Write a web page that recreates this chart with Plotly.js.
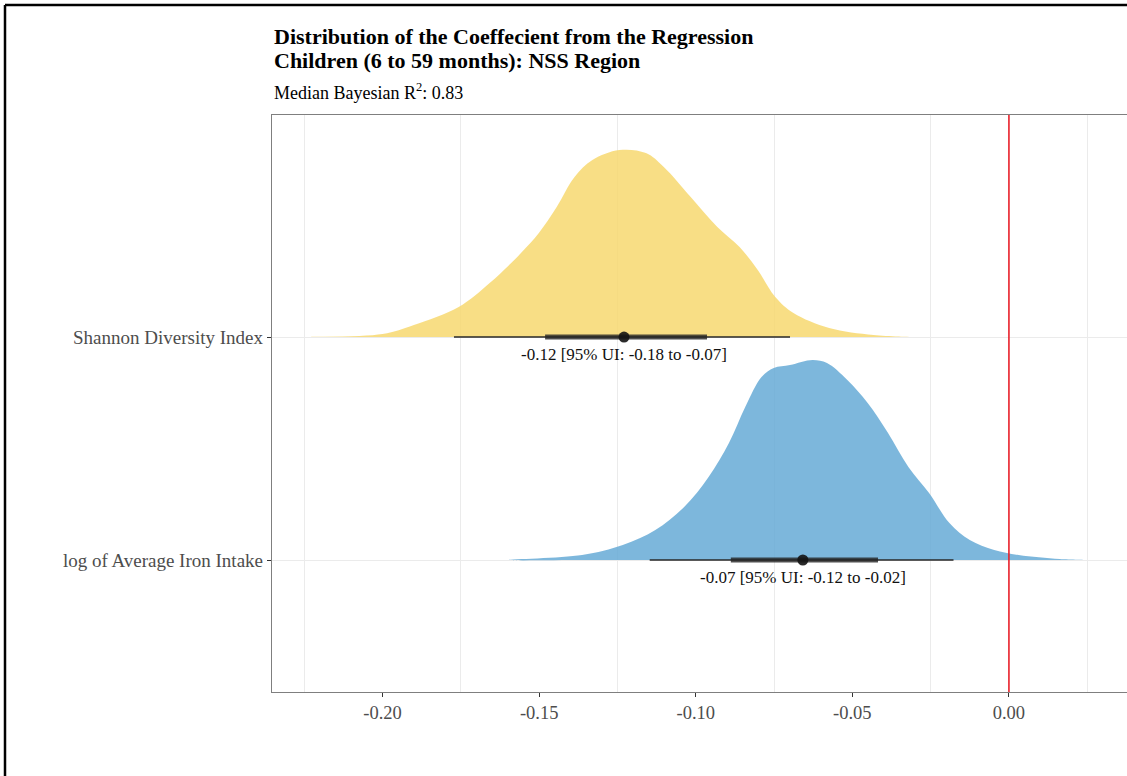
<!DOCTYPE html>
<html><head><meta charset="utf-8">
<script src="https://cdn.plot.ly/plotly-3.0.1.min.js"></script>
<style>html,body{margin:0;padding:0;background:#fff}#chart{width:1127px;height:776px}</style>
</head><body><div id="chart"></div>
<script>
// ---- data ----
const categories = ["log of Average Iron Intake", "Shannon Diversity Index"];
// posterior density outlines (x = coefficient value, h = relative density, max = 1)
const shannonX = [-0.2228,-0.2000,-0.1900,-0.1757,-0.1658,-0.1558,-0.1501,-0.1444,-0.1387,-0.1330,-0.1244,-0.1159,-0.1102,-0.1016,-0.0931,-0.0860,-0.0802,-0.0746,-0.0688,-0.0574,-0.0432,-0.0304];
const shannonH = [0.002,0.015,0.06,0.15,0.27,0.42,0.52,0.65,0.80,0.885,0.935,0.92,0.85,0.70,0.55,0.45,0.335,0.20,0.12,0.045,0.01,0];
const ironX = [-0.1598,-0.1363,-0.1233,-0.1129,-0.1037,-0.0959,-0.0894,-0.0842,-0.0790,-0.0751,-0.0699,-0.0627,-0.0581,-0.0516,-0.0451,-0.0386,-0.0321,-0.0255,-0.0190,-0.0125,-0.0047,0.0031,0.0162,0.0253];
const ironH = [0,0.025,0.075,0.15,0.265,0.415,0.585,0.765,0.915,0.96,0.975,1.0,0.985,0.90,0.785,0.635,0.465,0.335,0.185,0.10,0.05,0.025,0.005,0];
// point summaries, ordered as categories
const medians  = [-0.0658, -0.1229];
const lo95     = [-0.1147, -0.1772];
const hi95     = [-0.0177, -0.0699];
const loInner  = [-0.0888, -0.1481];
const hiInner  = [-0.0418, -0.0964];
const intervalLabels = ["-0.07 [95% UI: -0.12 to -0.02]", "-0.12 [95% UI: -0.18 to -0.07]"];
const xTickVals = [-0.20, -0.15, -0.10, -0.05, 0.00];
const medianR2 = 0.83;

// ---- styling / layout ----
const W = 1127, H = 776;
const M = {l: 272, r: 0, t: 115, b: 84};
const plotH = H - M.t - M.b, plotW = W - M.l - M.r;
const py = px => (H - M.b - px) / plotH;   // pixel y -> paper y
const pxx = px => (px - M.l) / plotW;      // pixel x -> paper x
const SERIF = "Liberation Serif, Times New Roman, serif";
const ridgeScale = 0.897;
const fills = ["rgba(102,170,214,0.85)", "rgba(247,216,112,0.85)"];
const densX = [ironX, shannonX];
const densH = [ironH, shannonH];

const traces = [];
for (const i of [1, 0]) {
  const base = i + 1;
  const xs = densX[i].concat(densX[i].slice().reverse());
  const ys = densH[i].map(h => base + h * ridgeScale).concat(densX[i].map(() => base));
  traces.push({type: "scatter", mode: "lines", x: xs, y: ys, fill: "toself",
    fillcolor: fills[i], line: {width: 0, shape: "spline", smoothing: 1}, hoverinfo: "skip", showlegend: false});
}
for (let i = 0; i < categories.length; i++) {
  const yv = i + 1;
  traces.push({type: "scatter", mode: "lines", x: [lo95[i], hi95[i]], y: [yv, yv],
    line: {color: "rgba(40,40,40,0.75)", width: 2}, hoverinfo: "skip", showlegend: false});
  traces.push({type: "scatter", mode: "lines", x: [loInner[i], hiInner[i]], y: [yv, yv],
    line: {color: "rgba(35,35,35,0.8)", width: 5}, hoverinfo: "skip", showlegend: false});
  traces.push({type: "scatter", mode: "markers", x: [medians[i]], y: [yv],
    marker: {color: "rgba(20,20,20,0.9)", size: 11}, hoverinfo: "skip", showlegend: false});
}

const gridVals = [];
for (let k = 0; k < xTickVals.length; k++) gridVals.push(xTickVals[k] - 0.025);
gridVals.push(xTickVals[xTickVals.length - 1] + 0.025);

const annotations = categories.map((c, i) => ({
  x: medians[i], y: i + 1, xref: "x", yref: "y", text: intervalLabels[i], showarrow: false,
  yshift: -17, xanchor: "center", yanchor: "middle", font: {family: SERIF, size: 17, color: "#111"}
}));
annotations.push({xref: "paper", yref: "paper", x: 0, y: py(36), xanchor: "left", yanchor: "middle",
  text: "<b>Distribution of the Coeffecient from the Regression</b>", showarrow: false,
  font: {family: SERIF, size: 22, color: "#000"}});
annotations.push({xref: "paper", yref: "paper", x: 0, y: py(61), xanchor: "left", yanchor: "middle",
  text: "<b>Children (6 to 59 months): NSS Region</b>", showarrow: false,
  font: {family: SERIF, size: 22, color: "#000"}});
annotations.push({xref: "paper", yref: "paper", x: 0, y: py(92), xanchor: "left", yanchor: "middle",
  text: "Median Bayesian R<sup>2</sup>: " + medianR2.toFixed(2), showarrow: false,
  font: {family: SERIF, size: 18, color: "#000"}});

const shapes = [
  {type: "line", xref: "x", yref: "paper", x0: 0, x1: 0, y0: 0, y1: 1, layer: "above",
   line: {color: "#e8202a", width: 1.6}},
  {type: "line", xref: "paper", yref: "paper", x0: pxx(5), x1: pxx(5), y0: py(5), y1: py(H + 5),
   line: {color: "#000", width: 2.5}},
  {type: "line", xref: "paper", yref: "paper", x0: pxx(5), x1: pxx(W + 5), y0: py(5), y1: py(5),
   line: {color: "#000", width: 2.5}}
];

const layout = {
  width: W, height: H, margin: M, paper_bgcolor: "#fff", plot_bgcolor: "#fff", showlegend: false,
  font: {family: SERIF},
  xaxis: {range: [-0.2353, 0.0377], tickvals: xTickVals, ticktext: xTickVals.map(v => v.toFixed(2)),
    showgrid: false, zeroline: false, showline: true, mirror: true, linecolor: "#7f7f7f", linewidth: 1.2,
    ticks: "outside", ticklen: 4, tickcolor: "#333", tickwidth: 1,
    tickfont: {family: SERIF, size: 18.5, color: "#4d4d4d"},
    minor: {tickvals: gridVals, showgrid: true, gridcolor: "#ebebeb", gridwidth: 1, ticks: ""}},
  yaxis: {range: [0.408, 2.996], tickvals: [1, 2], ticktext: categories, showgrid: true,
    gridcolor: "#ebebeb", gridwidth: 1, zeroline: false, showline: true, linecolor: "#7f7f7f", linewidth: 1.2,
    ticks: "outside", ticklen: 4, tickcolor: "#333", tickwidth: 1,
    tickfont: {family: SERIF, size: 19, color: "#4d4d4d"}},
  annotations: annotations, shapes: shapes
};
Plotly.newPlot("chart", traces, layout, {staticPlot: true, displayModeBar: false});
</script></body></html>
